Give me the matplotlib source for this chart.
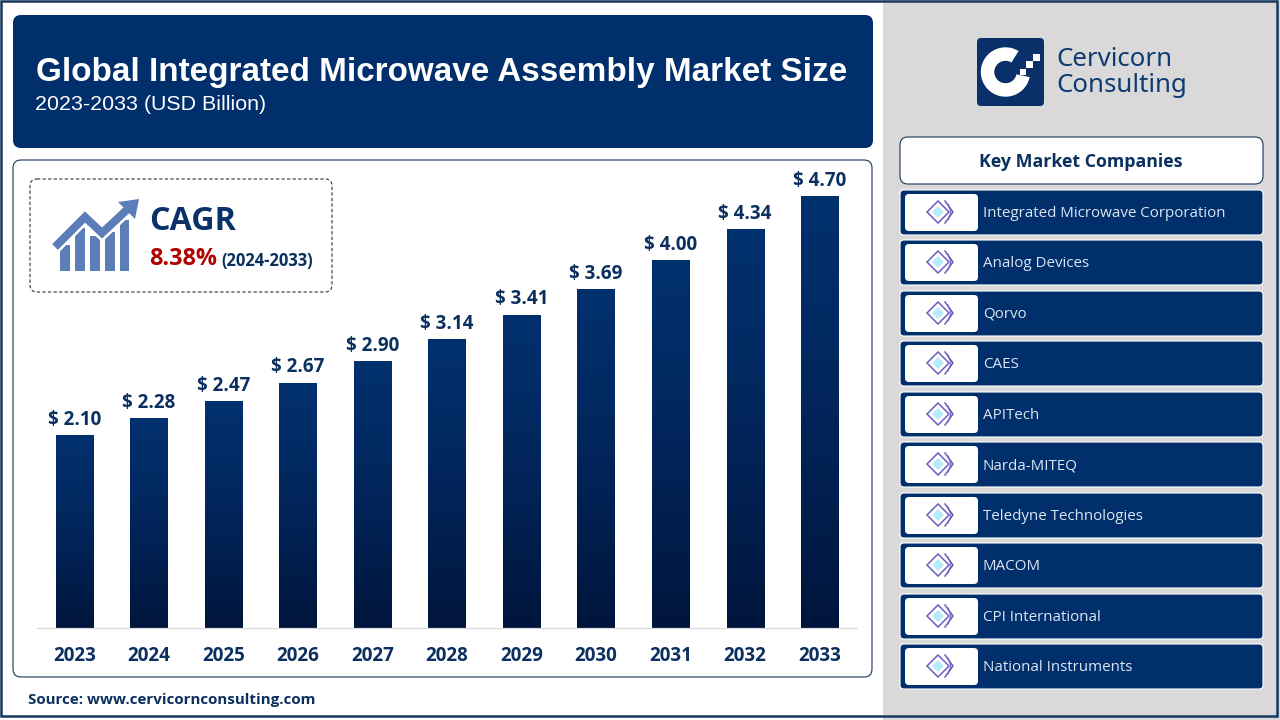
import numpy as np
import matplotlib
matplotlib.use("Agg")
import matplotlib.pyplot as plt
from matplotlib.patches import FancyBboxPatch, Rectangle, Polygon, Wedge
from matplotlib.colors import LinearSegmentedColormap

years = ["2023","2024","2025","2026","2027","2028","2029","2030","2031","2032","2033"]
values = [2.10,2.28,2.47,2.67,2.90,3.14,3.41,3.69,4.00,4.34,4.70]
companies = ["Integrated Microwave Corporation","Analog Devices","Qorvo","CAES","APITech",
             "Narda-MITEQ","Teledyne Technologies","MACOM","CPI International","National Instruments"]
row_tops = [190,240,291,341,392,442,493,543,594,644]

NAVY = "#002f6b"; INK = "#0b2f5f"; SANS = "Open Sans"; ARIAL = "Liberation Sans"
W, H = 1280, 720
fig = plt.figure(figsize=(W/100, H/100), dpi=100, facecolor="white")
bg = fig.add_axes([0,0,1,1], zorder=0)
bg.set_xlim(0,W); bg.set_ylim(H,0); bg.axis("off")

def rbox(x0,y0,x1,y1,r=6,fc="white",ec="none",lw=1,ls="-",z=1):
    p = FancyBboxPatch((x0+r,y0+r),x1-x0-2*r,y1-y0-2*r,boxstyle=f"round,pad={r},rounding_size={r}",
                       fc=fc,ec=ec,lw=lw,ls=ls,zorder=z,mutation_aspect=1)
    bg.add_patch(p); return p

# side panel and outer frame
bg.add_patch(Rectangle((883,0),W-883,H,fc="#d9d9d9",ec="none",zorder=0.5))
bg.add_patch(Rectangle((1,1),1276,715,fc="none",ec="#14375f",lw=1.8,zorder=9))

# header
rbox(13,15,873,148,r=8,fc=NAVY,z=1)
bg.text(36,72,"Global Integrated Microwave Assembly Market Size",family=ARIAL,weight="bold",
        size=23.95,color="white",va="center",ha="left",zorder=2)
bg.text(35,105,"2023-2033 (USD Billion)",family=ARIAL,size=15.4,color="white",va="center",ha="left",zorder=2)

# chart card
rbox(13,160,872,677,r=8,fc="white",ec="#1c3558",lw=0.8,z=1)

# CAGR box
rbox(30,179,332,292,r=7,fc="white",ec="#333333",lw=0.8,ls=(0,(3,2)),z=1.2)
BLUE = "#5b7db8"
for x0,x1,top in [(60,70,245),(75,85,228),(90,100,236),(105,115,232),(120,129,220)]:
    bg.add_patch(Rectangle((x0,top),x1-x0,271-top,fc=BLUE,ec="none",zorder=1.3))
bg.plot([55,85,102,131],[247,217,233,206],color="white",lw=9.5,solid_capstyle="butt",solid_joinstyle="miter",zorder=1.4)
bg.plot([55,85,102,131],[247,217,233,206],color=BLUE,lw=5.8,solid_capstyle="butt",solid_joinstyle="miter",zorder=1.5)
bg.add_patch(Polygon([(139,199),(135,219),(118,202)],fc=BLUE,ec="none",zorder=1.5))
bg.text(149,221,"CAGR",family=SANS,weight="bold",size=23.2,color="#0a3269",va="center",zorder=2)
bg.text(149,259,"8.38%",family=SANS,weight="bold",size=16.8,color="#b00000",va="center",zorder=2)
bg.text(221,261,"(2024-2033)",family=SANS,weight="bold",size=11.9,color=INK,va="center",zorder=2)

# source
bg.text(28,700,"Source: www.cervicornconsulting.com",family=SANS,weight="bold",size=10.9,color=INK,va="center",zorder=2)

# logo
rbox(977,38,1044,106,r=4,fc="#0a3069",z=1)
bg.add_patch(Wedge((1005.5,72),24.7,12,302,width=13.5,fc="white",ec="none",zorder=2))
for x,y,s in [(1033,54,7),(1026,61,7),(1020,69,6)]:
    bg.add_patch(Rectangle((x,y),s,s,fc="white",ec="none",zorder=2))
bg.text(1056,60,"Cervicorn",family="Noto Sans",size=18.6,color="#0d3a72",va="center",zorder=2)
bg.text(1056,85,"Consulting",family="Noto Sans",size=18.6,color="#0d3a72",va="center",zorder=2)

# key companies
rbox(900,137,1263,184,r=8,fc="white",ec="#1c3558",lw=0.8,z=1)
bg.text(1081,162,"Key Market Companies",family=SANS,weight="bold",size=12.8,color=INK,
        ha="center",va="center",zorder=2)
for top,name in zip(row_tops,companies):
    rbox(900,top,1263,top+45,r=4,fc=NAVY,ec="white",lw=0.8,z=1)
    rbox(905,top+4,978,top+41,r=4,fc="white",z=1.5)
    cy = top+22
    bg.plot([945,953,945],[cy-11,cy,cy+11],color="#6a5fbf",lw=1.1,zorder=2)
    bg.plot([948,951,948],[cy-8,cy,cy+8],color="#6a5fbf",lw=0.8,zorder=2)
    bg.add_patch(Polygon([(938,cy-11),(927,cy),(938,cy+11),(949,cy)],fc="white",ec="#6a5fbf",lw=1.1,zorder=2.1))
    bg.add_patch(Polygon([(938,cy-6),(932,cy),(938,cy+6),(944,cy)],fc="#b5ebfb",ec="none",zorder=2.2))
    bg.text(983,cy+1.5,name,family=SANS,size=10.9,color="#dbe6f3",va="center",zorder=3)

# bars
L,R,B,T = 37,857,628,165
ax = fig.add_axes([L/W,1-B/H,(R-L)/W,(B-T)/H],zorder=2)
ax.patch.set_alpha(0)
x = np.arange(len(years))
bars = ax.bar(x,values,width=0.5,color=NAVY)
cm_b = LinearSegmentedColormap.from_list("b",["#00153c","#01255a","#02316f"])
grad = np.linspace(0,1,256)[:,None]
for b,xi,v in zip(bars,x,values):
    im = ax.imshow(grad,origin="lower",extent=(xi-0.25,xi+0.25,0,v),cmap=cm_b,aspect="auto",zorder=2)
    im.set_clip_path(b)
    ax.annotate(f"$ {v:.2f}",(xi,v),xytext=(0,3.8),textcoords="offset points",ha="center",va="bottom",
                family=SANS,weight="bold",size=13.5,color=INK,parse_math=False)
ax.set_xlim(-0.5,10.5); ax.set_ylim(0,(B-T)/91.9)
ax.set_xticks(x,years,family=SANS,weight="bold",size=13.5,color=INK)
ax.tick_params(axis="x",length=0,pad=13)
ax.set_yticks([])
for s in ["top","left","right"]:
    ax.spines[s].set_visible(False)
ax.spines["bottom"].set_color("#d9d9d9")
ax.spines["bottom"].set_linewidth(0.9)

fig.savefig("out.png",dpi=100,facecolor="white")
